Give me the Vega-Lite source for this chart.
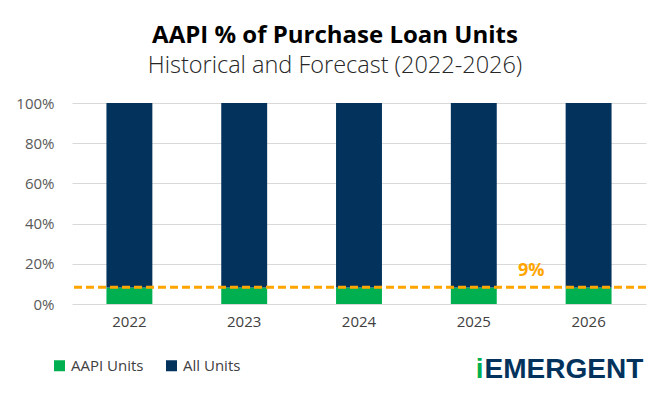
{
  "$schema": "https://vega.github.io/schema/vega-lite/v6.json",
  "width": 574,
  "height": 201,
  "autosize": {"type": "none"},
  "padding": {"left": 72, "top": 103, "right": 24, "bottom": 94},
  "background": "white",
  "config": {"font": "Open Sans", "view": {"stroke": null}},
  "title": {
    "text": "AAPI % of Purchase Loan Units",
    "subtitle": "Historical and Forecast (2022-2026)",
    "fontSize": 24,
    "fontWeight": "bold",
    "color": "#000000",
    "subtitleFontSize": 23.5,
    "subtitleFontWeight": 300,
    "subtitleColor": "#262626",
    "subtitlePadding": 6,
    "anchor": "middle",
    "dx": -24,
    "offset": 19
  },
  "datasets": {
    "shares": [
      {"year": "2022", "series": "AAPI Units", "share": 0.082},
      {"year": "2022", "series": "All Units", "share": 0.918},
      {"year": "2023", "series": "AAPI Units", "share": 0.082},
      {"year": "2023", "series": "All Units", "share": 0.918},
      {"year": "2024", "series": "AAPI Units", "share": 0.082},
      {"year": "2024", "series": "All Units", "share": 0.918},
      {"year": "2025", "series": "AAPI Units", "share": 0.082},
      {"year": "2025", "series": "All Units", "share": 0.918},
      {"year": "2026", "series": "AAPI Units", "share": 0.082},
      {"year": "2026", "series": "All Units", "share": 0.918}
    ],
    "avg": [{"label": "9%", "value": 0.083}]
  },
  "layer": [
    {
      "data": {"name": "shares"},
      "mark": {"type": "bar"},
      "encoding": {
        "x": {
          "field": "year",
          "type": "ordinal",
          "scale": {"paddingInner": 0.6, "paddingOuter": 0.3},
          "axis": {"title": null, "labelAngle": 0, "labelFontSize": 15, "labelColor": "#404040", "ticks": false, "domain": false, "labelPadding": 10}
        },
        "y": {
          "field": "share",
          "type": "quantitative",
          "stack": true,
          "scale": {"domain": [0, 1]},
          "axis": {"title": null, "format": ".0%", "values": [0, 0.2, 0.4, 0.6, 0.8, 1], "labelFontSize": 15, "labelColor": "#595959", "gridColor": "#d9d9d9", "domain": false, "ticks": false, "labelPadding": 18}
        },
        "color": {
          "field": "series",
          "type": "nominal",
          "scale": {"domain": ["AAPI Units", "All Units"], "range": ["#00b050", "#03335c"]},
          "legend": {"orient": "none", "legendX": -20, "legendY": 255, "direction": "horizontal", "title": null, "symbolType": "square", "symbolSize": 121, "symbolStrokeWidth": 0, "labelFontSize": 15, "labelColor": "#404040", "columnPadding": 20, "labelOffset": 4}
        },
        "order": {"field": "series", "sort": "ascending"}
      }
    },
    {
      "data": {"name": "avg"},
      "mark": {"type": "rule", "color": "#ffa500", "strokeWidth": 3, "strokeDash": [8, 4]},
      "encoding": {"y": {"field": "value", "type": "quantitative"}}
    },
    {
      "data": {"name": "avg"},
      "mark": {"type": "text", "color": "#ffa500", "fontWeight": "bold", "fontSize": 18, "align": "center", "baseline": "middle"},
      "encoding": {
        "x": {"datum": "2025", "bandPosition": 1.75},
        "y": {"datum": 0.165},
        "text": {"field": "label"}
      }
    },
    {
      "data": {"values": [{"logo": "EMERGENT"}]},
      "mark": {"type": "text", "color": "#03335c", "fontWeight": 900, "font": "Liberation Sans", "fontSize": 28, "align": "right", "baseline": "alphabetic"},
      "encoding": {
        "x": {"datum": "2026", "bandPosition": 1.69},
        "y": {"datum": -0.366},
        "text": {"field": "logo"}
      }
    },
    {
      "data": {"values": [{"logo": "i"}]},
      "mark": {"type": "text", "color": "#00b050", "fontWeight": 900, "font": "Liberation Sans", "fontSize": 28, "align": "left", "baseline": "alphabetic"},
      "encoding": {
        "x": {"datum": "2025", "bandPosition": 0.54},
        "y": {"datum": -0.366},
        "text": {"field": "logo"}
      }
    }
  ]
}
